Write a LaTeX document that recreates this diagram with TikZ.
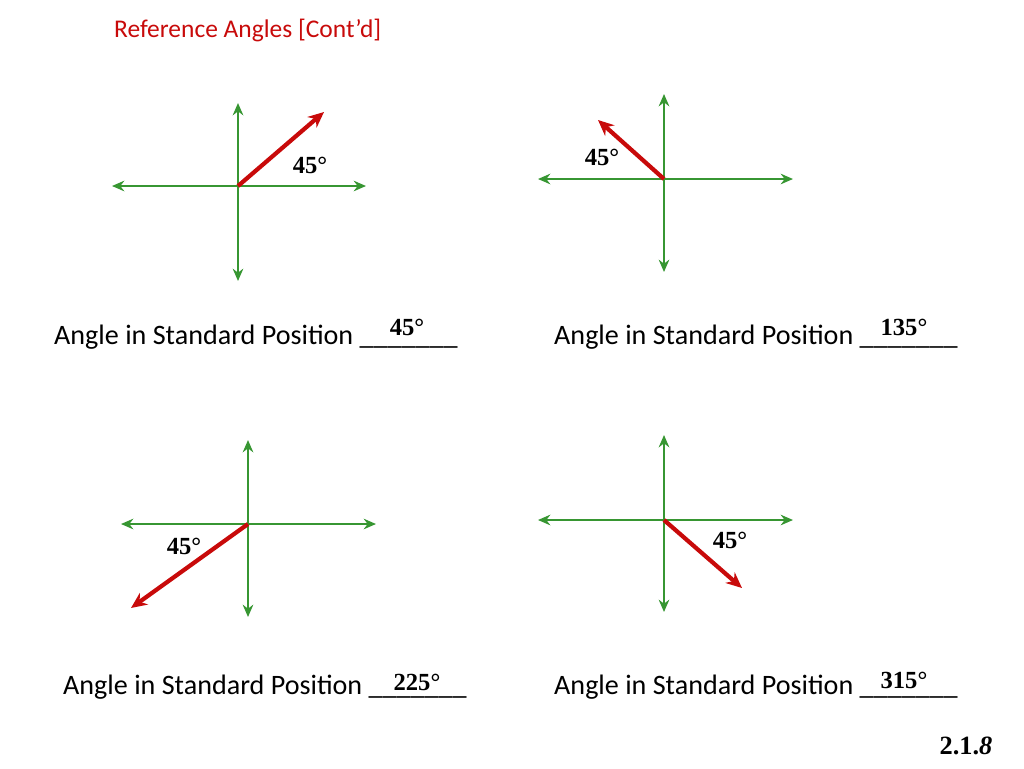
\documentclass[tikz,border=0pt]{standalone}
\usepackage{fontspec}
\setmainfont{Carlito}
\newfontfamily\degfont{Liberation Serif}
\usetikzlibrary{arrows.meta}
\definecolor{axisgreen}{RGB}{55,150,50}
\definecolor{rayred}{RGB}{200,10,10}
\tikzset{>={Stealth[length=7pt,width=6pt]},
    axis/.style={<->,axisgreen,line width=1.6pt},
    ray/.style={-{Stealth[length=9pt,width=8pt]},rayred,line width=2.4pt},
    deg/.style={font=\degfont\bfseries\fontsize{14}{16}\selectfont},
    caption/.style={anchor=west,font=\fontsize{16}{19}\selectfont}
}
\begin{document}
\begin{tikzpicture}[x=0.02cm,y=-0.02cm]
    \useasboundingbox (0,0) rectangle (1024,768);
    \node[anchor=west,rayred,font=\fontsize{14.5}{17}\selectfont] (title) at (108,30) {Reference Angles [Cont’d]};

    % first quadrant
    \coordinate (o1) at (238,186);
    \draw[axis] (112,186) -- (366,186);
    \draw[axis] (238,103) -- (238,281);
    \draw[ray] (o1) -- (324,112);
    \node[deg] (a1) at (310,165) {45°};

    % second quadrant
    \coordinate (o2) at (664,179);
    \draw[axis] (538,179) -- (793,179);
    \draw[axis] (664,94) -- (664,272);
    \draw[ray] (o2) -- (598,120);
    \node[deg] (a2) at (602,157) {45°};

    % third quadrant
    \coordinate (o3) at (248,524);
    \draw[axis] (121,524) -- (376,524);
    \draw[axis] (248,440) -- (248,617);
    \draw[ray] (o3) -- (131,608);
    \node[deg] (a3) at (184,546) {45°};

    % fourth quadrant
    \coordinate (o4) at (664,520);
    \draw[axis] (538,520) -- (793,520);
    \draw[axis] (664,435) -- (664,612);
    \draw[ray] (o4) -- (742,588);
    \node[deg] (a4) at (730,540) {45°};

    \node[caption] (c1) at (48,337) {Angle in Standard Position \_\_\_\_\_\_\_};
    \node[caption] (c2) at (548,337) {Angle in Standard Position \_\_\_\_\_\_\_};
    \node[caption] (c3) at (57,687) {Angle in Standard Position \_\_\_\_\_\_\_};
    \node[caption] (c4) at (548,687) {Angle in Standard Position \_\_\_\_\_\_\_};
    \node[deg] (r1) at (407,327) {45°};
    \node[deg] (r2) at (904,327) {135°};
    \node[deg] (r3) at (417,682) {225°};
    \node[deg] (r4) at (904,680) {315°};

    \node[font=\degfont\bfseries\fontsize{15}{17}\selectfont] (num) at (966,746) {2.1.\textit{8}};
\end{tikzpicture}
\end{document}
